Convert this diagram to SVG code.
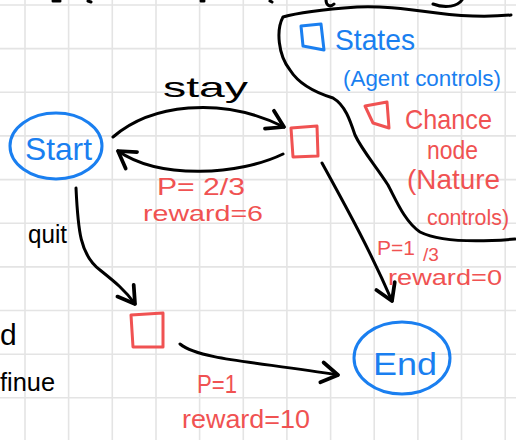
<svg xmlns="http://www.w3.org/2000/svg" width="516" height="440" viewBox="0 0 516 440">
<defs>
<marker id="arr" markerUnits="userSpaceOnUse" markerWidth="30" markerHeight="30" viewBox="-16 -12 20 24" refX="0" refY="0" orient="auto" overflow="visible">
<path d="M-13,-8 L0,0 L-13,8" fill="none" stroke="#000" stroke-width="3" stroke-linecap="round" stroke-linejoin="round"/>
</marker>
<style>
.grid{fill:none;stroke:#e4e4e4;stroke-width:1.6}
.ink{fill:none;stroke:#000;stroke-width:3;stroke-linecap:round;stroke-linejoin:round}
.blue{fill:none;stroke:#1a7ff0;stroke-width:3;stroke-linecap:round;stroke-linejoin:round}
.red{fill:none;stroke:#f05252;stroke-width:3;stroke-linecap:round;stroke-linejoin:round}
text{font-family:"Liberation Sans","Noto Sans",sans-serif}
.tb{fill:#1a7ff0}
.tr{fill:#f05252}
.tk{fill:#000}
</style>
</defs>
<rect width="516" height="440" fill="#fff"/>
<g id="grid">
<path class="grid" d="M25,0 V440 M68.6,0 V440 M112.3,0 V440 M156,0 V440 M199.6,0 V440 M243.3,0 V440 M286.9,0 V440 M330.6,0 V440 M374.2,0 V440 M417.9,0 V440 M461.5,0 V440 M505.2,0 V440 M0,5 H516 M0,48.6 H516 M0,92.3 H516 M0,135.9 H516 M0,179.6 H516 M0,223.2 H516 M0,266.9 H516 M0,310.5 H516 M0,354.2 H516 M0,397.8 H516"/>
</g>

<g id="top-fragments">
<path class="ink" d="M433,4 C446,9 458,6 462,0"/>
<path class="ink" d="M326,0 C326,5 330,8 334,4"/>
<path class="ink" d="M53,1 L60,1 M88,1 L91,2 M201,1 L204,1 M270,1 L272,2"/>
</g>

<g id="legend">
<path class="ink" d="M283,17 C300,12 330,9 357,7 C380,6 400,8 437,13 C460,16 490,17 511,15 M283,17 C276,30 278,55 290,70 C300,86 320,94 333,98 C345,105 350,120 355,135 C362,150 375,165 388,185 C396,200 405,222 420,232 C440,242 480,242 515,239"/>
<path class="blue" d="M301,26 L321,24 L324,50 L303,46 Z"/>
<text class="tb" x="335" y="50" font-size="30" textLength="80" lengthAdjust="spacingAndGlyphs">States</text>
<text class="tb" x="343" y="86" font-size="22" textLength="158" lengthAdjust="spacingAndGlyphs">(Agent controls)</text>
<path class="red" d="M365,106 L387,102 L389,128 L373,123 Z"/>
<text class="tr" x="405" y="129" font-size="28" textLength="87" lengthAdjust="spacingAndGlyphs">Chance</text>
<text class="tr" x="427" y="159" font-size="26" textLength="51" lengthAdjust="spacingAndGlyphs">node</text>
<text class="tr" x="407" y="189" font-size="28" textLength="93" lengthAdjust="spacingAndGlyphs">(Nature</text>
<text class="tr" x="427" y="225" font-size="22" textLength="82" lengthAdjust="spacingAndGlyphs">controls)</text>
</g>

<g id="start">
<ellipse class="blue" cx="56" cy="146" rx="46" ry="33"/>
<text class="tb" x="25" y="160" font-size="32" textLength="67" lengthAdjust="spacingAndGlyphs">Start</text>
</g>

<g id="chance1">
<path class="red" d="M291,128 L317,126 L318,156 L293,157 Z"/>
</g>

<g id="chance2">
<path class="red" d="M131,315 L163,313 L163,347 L133,347 Z"/>
</g>

<g id="end">
<ellipse class="blue" cx="402" cy="358" rx="48" ry="36"/>
<text class="tb" x="373" y="375" font-size="32" textLength="64" lengthAdjust="spacingAndGlyphs">End</text>
</g>

<g id="connectors">
<path class="ink" marker-end="url(#arr)" d="M113,137 C150,105 220,95 284,127"/>
<path class="ink" marker-end="url(#arr)" d="M283,154 C240,175 160,180 118,151"/>
<path class="ink" marker-end="url(#arr)" d="M322,163 C345,205 370,250 392,301"/>
<path class="ink" marker-end="url(#arr)" d="M76,188 C78,230 80,255 100,270 C115,282 125,290 135,304"/>
<path class="ink" marker-end="url(#arr)" d="M180,344 C200,360 260,362 338,375"/>
</g>

<g id="labels">
<text class="tk" x="163" y="97" font-size="28" textLength="85" lengthAdjust="spacingAndGlyphs">stay</text>
<text class="tk" x="28" y="243" font-size="25" textLength="39" lengthAdjust="spacingAndGlyphs">quit</text>
<text class="tr" x="157" y="195" font-size="24" textLength="88" lengthAdjust="spacingAndGlyphs">P= 2/3</text>
<text class="tr" x="143" y="221" font-size="22" textLength="120" lengthAdjust="spacingAndGlyphs">reward=6</text>
<text class="tr" x="377" y="255" font-size="21">P=1</text>
<text class="tr" x="423" y="261" font-size="19">/3</text>
<text class="tr" x="388" y="285" font-size="22" textLength="114" lengthAdjust="spacingAndGlyphs">reward=0</text>
<text class="tr" x="197" y="393" font-size="26" textLength="40" lengthAdjust="spacingAndGlyphs">P=1</text>
<text class="tr" x="182" y="428" font-size="26" textLength="128" lengthAdjust="spacingAndGlyphs">reward=10</text>
<text class="tk" x="0" y="345" font-size="30">d</text>
<text class="tk" x="0" y="391" font-size="26" textLength="55" lengthAdjust="spacingAndGlyphs">finue</text>
</g>
</svg>
